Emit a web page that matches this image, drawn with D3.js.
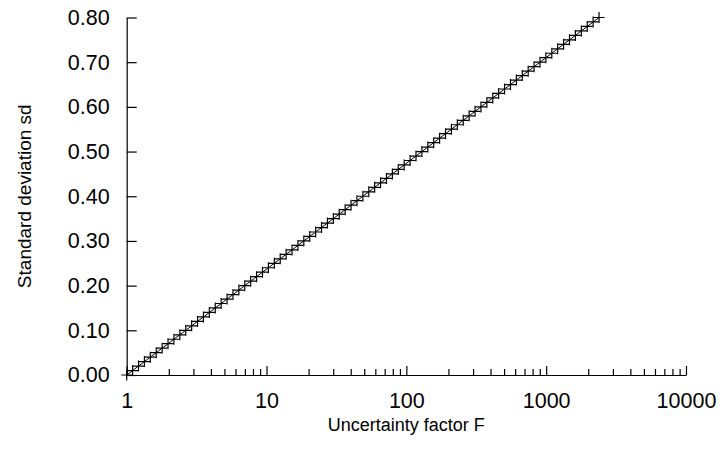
<!DOCTYPE html>
<html>
<head>
<meta charset="utf-8">
<script src="https://cdn.jsdelivr.net/npm/d3@7"></script>
<style>
	body { margin: 0; background: #fff; }
	svg text { font-family: "Liberation Sans", Arial, sans-serif; fill: #000; }
</style>
</head>
<body>
<svg id="chart" width="720" height="457"></svg>
<script>
// standard deviation steps and the uncertainty factor
var sdValues = [
	0.00, 0.01, 0.02, 0.03, 0.04, 0.05, 0.06, 0.07, 0.08, 0.09,
	0.10, 0.11, 0.12, 0.13, 0.14, 0.15, 0.16, 0.17, 0.18, 0.19,
	0.20, 0.21, 0.22, 0.23, 0.24, 0.25, 0.26, 0.27, 0.28, 0.29,
	0.30, 0.31, 0.32, 0.33, 0.34, 0.35, 0.36, 0.37, 0.38, 0.39,
	0.40, 0.41, 0.42, 0.43, 0.44, 0.45, 0.46, 0.47, 0.48, 0.49,
	0.50, 0.51, 0.52, 0.53, 0.54, 0.55, 0.56, 0.57, 0.58, 0.59,
	0.60, 0.61, 0.62, 0.63, 0.64, 0.65, 0.66, 0.67, 0.68, 0.69,
	0.70, 0.71, 0.72, 0.73, 0.74, 0.75, 0.76, 0.77, 0.78, 0.79,
	0.80
];
var factorValues = [
	1.000, 1.102, 1.215, 1.339, 1.475, 1.626, 1.792, 1.975, 2.177, 2.399,
	2.644, 2.914, 3.211, 3.539, 3.901, 4.299, 4.738, 5.222, 5.755, 6.342,
	6.990, 7.704, 8.490, 9.357, 10.31, 11.37, 12.53, 13.81, 15.22, 16.77,
	18.48, 20.37, 22.45, 24.74, 27.27, 30.05, 33.12, 36.50, 40.23, 44.34,
	48.87, 53.86, 59.35, 65.41, 72.09, 79.45, 87.56, 96.51, 106.4, 117.2,
	129.2, 142.4, 156.9, 172.9, 190.6, 210.1, 231.5, 255.2, 281.2, 309.9,
	341.6, 376.5, 414.9, 457.3, 504.0, 555.4, 612.1, 674.6, 743.5, 819.4,
	903.1, 995.4, 1097, 1209, 1332, 1468, 1618, 1784, 1966, 2167,
	2388
];
var xMajorTicks = [1, 10, 100, 1000, 10000];
var xMinorTicks = [2, 3, 4, 5, 6, 7, 8, 9, 20, 30, 40, 50, 60, 70, 80, 90,
	200, 300, 400, 500, 600, 700, 800, 900, 2000, 3000, 4000, 5000, 6000, 7000, 8000, 9000];
var yTicks = [0.00, 0.10, 0.20, 0.30, 0.40, 0.50, 0.60, 0.70, 0.80];

var svg = d3.select('#chart'),
	padLeft = 126.7, padRight = 686, padTop = 17.5, padBottom = 375,
	x = d3.scaleLog().domain([1, 10000]).range([padLeft, padRight]),
	y = d3.scaleLinear().domain([0, 0.8]).range([padBottom, padTop]),
	points = sdValues.map(function (d, i) { return {sd: d, f: factorValues[i]}; });

// minor ticks on the log axis, no labels
svg.append('g').attr('class', 'xminor')
	.attr('transform', 'translate(0,' + padBottom + ')')
	.call(d3.axisBottom(x).tickValues(xMinorTicks).tickSize(-6).tickFormat(''));

svg.append('g').attr('class', 'xaxis')
	.attr('transform', 'translate(0,' + padBottom + ')')
	.call(d3.axisBottom(x).tickValues(xMajorTicks).tickSize(-9).tickSizeOuter(0)
		.tickPadding(18).tickFormat(d3.format('d')));

svg.append('g').attr('class', 'yaxis')
	.attr('transform', 'translate(' + padLeft + ',0)')
	.call(d3.axisLeft(y).tickValues(yTicks).tickSize(-10).tickSizeOuter(0)
		.tickPadding(17).tickFormat(d3.format('.2f')));

svg.selectAll('.xminor .domain').remove();
svg.selectAll('.tick line, .domain').attr('stroke', '#000').attr('stroke-width', 1.2);
svg.selectAll('.tick text').style('font-size', '21.5px');

// connecting line
svg.append('path')
	.datum(points)
	.attr('fill', 'none')
	.attr('stroke', '#000')
	.attr('stroke-width', 1)
	.attr('d', d3.line().x(function (d) { return x(d.f); }).y(function (d) { return y(d.sd); }));

// plus markers
svg.append('g').attr('class', 'markers')
	.selectAll('path').data(points).enter().append('path')
	.attr('transform', function (d) { return 'translate(' + x(d.f) + ',' + y(d.sd) + ')'; })
	.attr('d', 'M-5.5,0H5.5M0,-5.5V5.5')
	.attr('stroke', '#000')
	.attr('stroke-width', 1.2)
	.attr('fill', 'none');

svg.append('text')
	.attr('x', (padLeft + padRight) / 2)
	.attr('y', 431)
	.attr('text-anchor', 'middle')
	.style('font-size', '18px')
	.text('Uncertainty factor F');

svg.append('text')
	.attr('transform', 'translate(31,' + (padTop + padBottom) / 2 + ') rotate(-90)')
	.attr('text-anchor', 'middle')
	.style('font-size', '19px')
	.text('Standard deviation sd');
</script>
</body>
</html>
